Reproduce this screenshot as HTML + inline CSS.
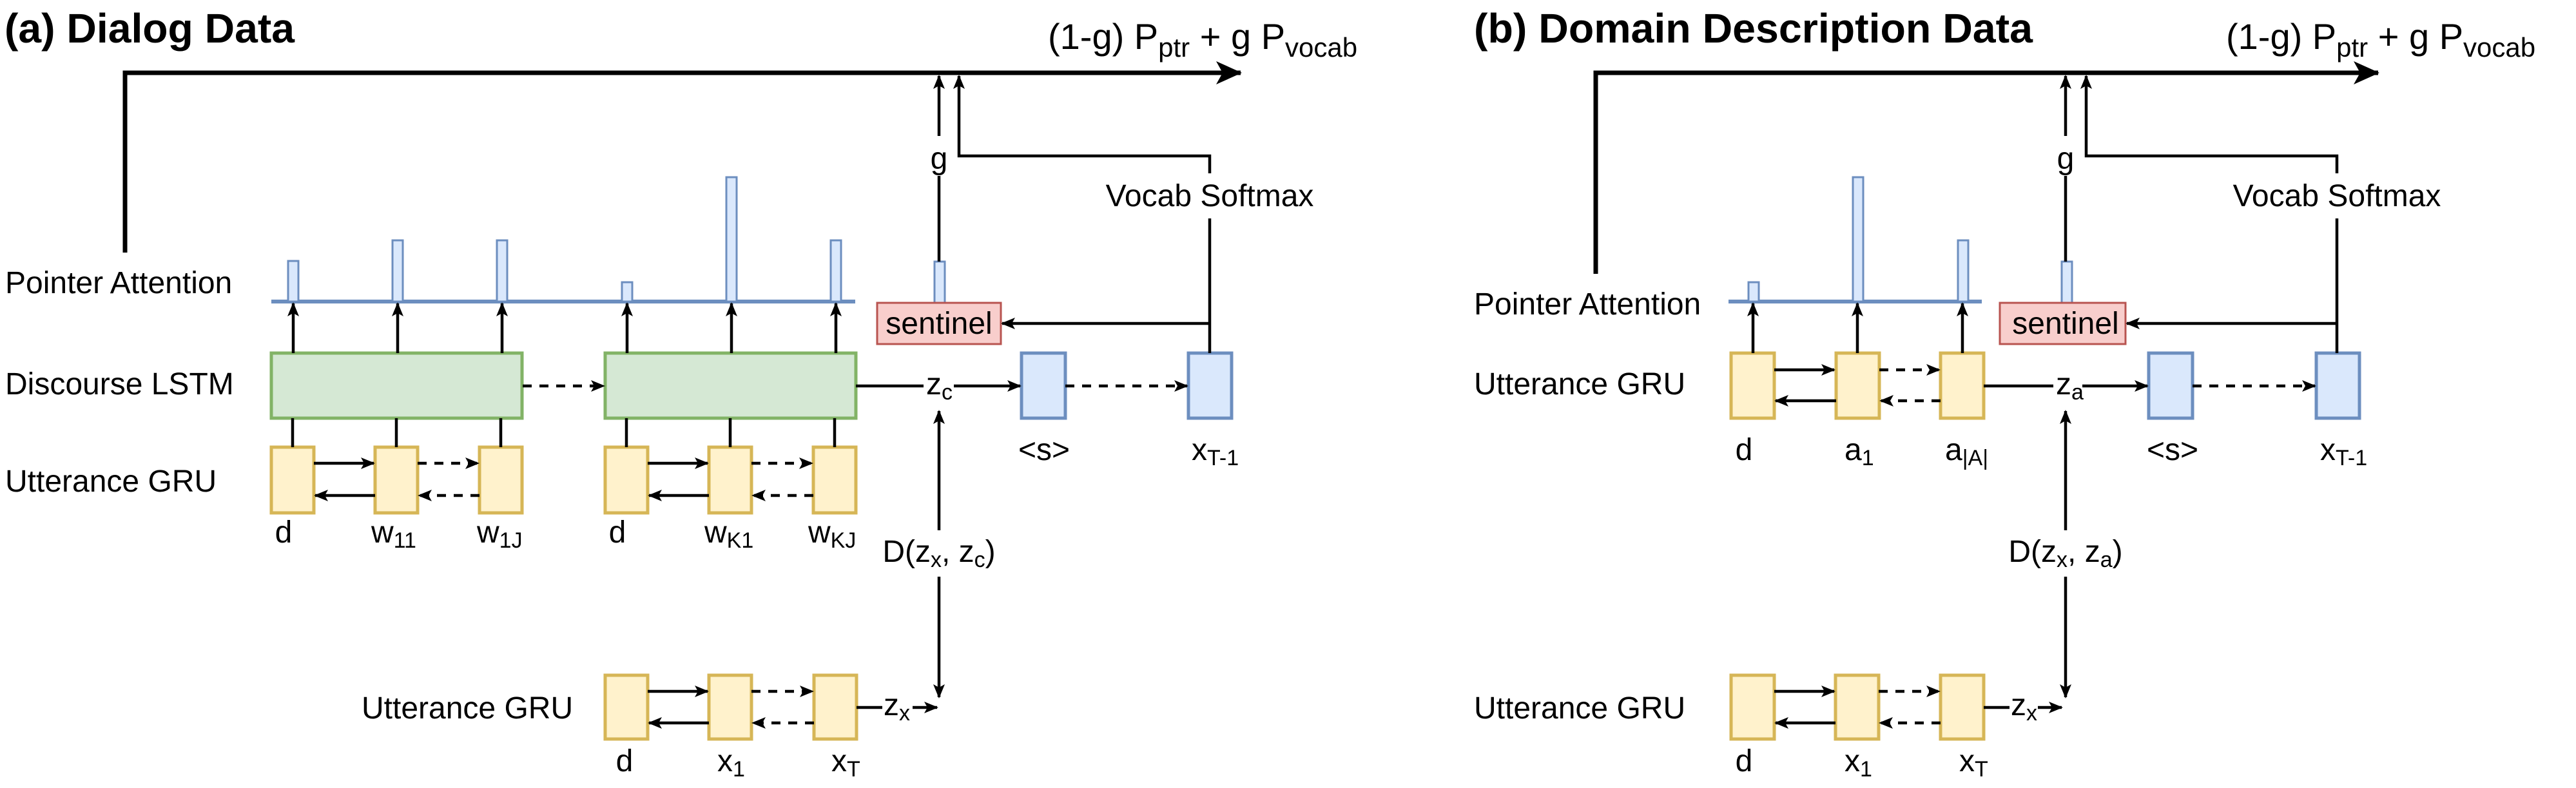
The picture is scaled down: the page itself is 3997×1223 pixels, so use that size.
<!DOCTYPE html>
<html><head><meta charset="utf-8"><style>
html,body{margin:0;padding:0;background:#fff}
svg{display:block}
text{font-family:"Liberation Sans",sans-serif;font-size:48px;fill:#000}
.s{font-size:34px}
.f{font-size:56px}
.fs{font-size:42px}
</style></head><body>
<svg width="3997" height="1223" viewBox="0 0 3997 1223" xmlns="http://www.w3.org/2000/svg">
<defs>
<marker id="a" markerUnits="userSpaceOnUse" markerWidth="22" markerHeight="18" refX="20" refY="9" orient="auto"><path d="M0,0 L22,9 L0,18 L5,9 z" fill="#000"/></marker>
<marker id="A" markerUnits="userSpaceOnUse" markerWidth="40" markerHeight="36" refX="38" refY="18" orient="auto"><path d="M0,0 L40,18 L0,36 L10,18 z" fill="#000"/></marker>
</defs>
<!-- shapes -->
<g stroke-width="4">
<line x1="421" y1="468" x2="1327" y2="468" stroke="#6c8ebf" stroke-width="6"/>
<line x1="2682" y1="468" x2="3075" y2="468" stroke="#6c8ebf" stroke-width="6"/>
<g fill="#dae8fc" stroke="#6c8ebf" stroke-width="3">
<rect x="447" y="405" width="16" height="63"/><rect x="609" y="373" width="16" height="95"/><rect x="771" y="373" width="16" height="95"/>
<rect x="965" y="438" width="16" height="30"/><rect x="1127" y="275" width="16" height="193"/><rect x="1289" y="373" width="16" height="95"/>
<rect x="1450" y="406" width="16" height="64"/>
<rect x="2713" y="438" width="16" height="30"/><rect x="2875" y="275" width="16" height="193"/><rect x="3038" y="373" width="16" height="95"/>
<rect x="3199" y="406" width="16" height="64"/>
</g>
<rect x="1361" y="470" width="192" height="64" fill="#f8cecc" stroke="#b85450" stroke-width="3"/>
<rect x="3103" y="470" width="195" height="64" fill="#f8cecc" stroke="#b85450" stroke-width="3"/>
<g fill="#d5e8d4" stroke="#82b366" stroke-width="5">
<rect x="421" y="548" width="389" height="101"/><rect x="939" y="548" width="389" height="101"/>
</g>
<g fill="#dae8fc" stroke="#6c8ebf" stroke-width="5">
<rect x="1585" y="548" width="68" height="101"/><rect x="1844" y="548" width="67" height="101"/>
<rect x="3334" y="548" width="68" height="101"/><rect x="3594" y="548" width="67" height="101"/>
</g>
<g fill="#fff2cc" stroke="#d6b656" stroke-width="5">
<rect x="421" y="694" width="66" height="102"/><rect x="582" y="694" width="66" height="102"/><rect x="744" y="694" width="66" height="102"/>
<rect x="939" y="694" width="66" height="102"/><rect x="1100" y="694" width="66" height="102"/><rect x="1262" y="694" width="66" height="102"/>
<rect x="939" y="1048" width="66" height="99"/><rect x="1100" y="1048" width="66" height="99"/><rect x="1263" y="1048" width="66" height="99"/>
<rect x="2686" y="548" width="67" height="101"/><rect x="2849" y="548" width="67" height="101"/><rect x="3011" y="548" width="67" height="101"/>
<rect x="2686" y="1048" width="67" height="99"/><rect x="2848" y="1048" width="67" height="99"/><rect x="3011" y="1048" width="67" height="99"/>
</g>
</g>
<g stroke="#000" stroke-width="4.5" fill="none">
<!-- LEFT -->
<path d="M194,392 L194,113 L1925,113" stroke-width="7" marker-end="url(#A)"/>
<path d="M1457,406 L1457,273"/>
<path d="M1457,211 L1457,118" marker-end="url(#a)"/>
<path d="M1877,548 L1877,339"/>
<path d="M1877,269 L1877,242 L1488,242 L1488,118" marker-end="url(#a)"/>
<path d="M1877,502 L1555,502" marker-end="url(#a)"/>
<path d="M455,548 L455,471" marker-end="url(#a)"/><path d="M617,548 L617,471" marker-end="url(#a)"/><path d="M779,548 L779,471" marker-end="url(#a)"/>
<path d="M973,548 L973,471" marker-end="url(#a)"/><path d="M1135,548 L1135,471" marker-end="url(#a)"/><path d="M1297,548 L1297,471" marker-end="url(#a)"/>
<path d="M811,599 L937,599" stroke-dasharray="14,12" marker-end="url(#a)"/>
<path d="M1328,599 L1433,599"/>
<path d="M1480,599 L1583,599" marker-end="url(#a)"/>
<path d="M1653,599 L1842,599" stroke-dasharray="14,12" marker-end="url(#a)"/>
<path d="M454,694 L454,649 M615,694 L615,649 M777,694 L777,649 M972,694 L972,649 M1133,694 L1133,649 M1295,694 L1295,649"/>
<path d="M487,719 L580,719" marker-end="url(#a)"/><path d="M1005,719 L1098,719" marker-end="url(#a)"/>
<path d="M648,719 L742,719" stroke-dasharray="14,12" marker-end="url(#a)"/><path d="M1166,719 L1260,719" stroke-dasharray="14,12" marker-end="url(#a)"/>
<path d="M582,769 L489,769" marker-end="url(#a)"/><path d="M1100,769 L1007,769" marker-end="url(#a)"/>
<path d="M744,769 L650,769" stroke-dasharray="14,12" marker-end="url(#a)"/><path d="M1262,769 L1168,769" stroke-dasharray="14,12" marker-end="url(#a)"/>
<path d="M1457,823 L1457,638" marker-end="url(#a)"/><path d="M1457,895 L1457,1082" marker-end="url(#a)"/>
<path d="M1005,1073 L1098,1073" marker-end="url(#a)"/>
<path d="M1166,1073 L1261,1073" stroke-dasharray="14,12" marker-end="url(#a)"/>
<path d="M1100,1122 L1007,1122" marker-end="url(#a)"/>
<path d="M1263,1122 L1168,1122" stroke-dasharray="14,12" marker-end="url(#a)"/>
<path d="M1329,1098 L1369,1098"/>
<path d="M1416,1098 L1454,1098" marker-end="url(#a)"/>
<!-- RIGHT -->
<path d="M2476,425 L2476,113 L3690,113" stroke-width="7" marker-end="url(#A)"/>
<path d="M3205,406 L3205,273"/>
<path d="M3205,211 L3205,118" marker-end="url(#a)"/>
<path d="M3626,548 L3626,339"/>
<path d="M3626,269 L3626,242 L3237,242 L3237,118" marker-end="url(#a)"/>
<path d="M3626,502 L3300,502" marker-end="url(#a)"/>
<path d="M2720,548 L2720,471" marker-end="url(#a)"/><path d="M2882,548 L2882,471" marker-end="url(#a)"/><path d="M3045,548 L3045,471" marker-end="url(#a)"/>
<path d="M2753,574 L2846,574" marker-end="url(#a)"/>
<path d="M2916,574 L3009,574" stroke-dasharray="14,12" marker-end="url(#a)"/>
<path d="M2849,622 L2755,622" marker-end="url(#a)"/>
<path d="M3011,622 L2918,622" stroke-dasharray="14,12" marker-end="url(#a)"/>
<path d="M3078,599 L3186,599"/>
<path d="M3231,599 L3332,599" marker-end="url(#a)"/>
<path d="M3402,599 L3592,599" stroke-dasharray="14,12" marker-end="url(#a)"/>
<path d="M3205,823 L3205,638" marker-end="url(#a)"/><path d="M3205,895 L3205,1082" marker-end="url(#a)"/>
<path d="M2753,1073 L2846,1073" marker-end="url(#a)"/>
<path d="M2915,1073 L3009,1073" stroke-dasharray="14,12" marker-end="url(#a)"/>
<path d="M2848,1122 L2755,1122" marker-end="url(#a)"/>
<path d="M3011,1122 L2917,1122" stroke-dasharray="14,12" marker-end="url(#a)"/>
<path d="M3078,1098 L3118,1098"/>
<path d="M3162,1098 L3199,1098" marker-end="url(#a)"/>
</g>
<!-- text left -->
<text x="7" y="66" font-weight="bold" style="font-size:64px" textLength="450" lengthAdjust="spacingAndGlyphs">(a) Dialog Data</text>
<text x="1626" y="76" class="f">(1-g) P<tspan class="fs" dy="12">ptr</tspan><tspan dy="-12"> + g P</tspan><tspan class="fs" dy="12">vocab</tspan></text>
<text x="1457" y="262" text-anchor="middle">g</text>
<text x="1877" y="320" text-anchor="middle">Vocab Softmax</text>
<text x="1457" y="518" text-anchor="middle">sentinel</text>
<text x="8" y="455">Pointer Attention</text>
<text x="8" y="612">Discourse LSTM</text>
<text x="8" y="763">Utterance GRU</text>
<text x="1437" y="612">z<tspan class="s" dy="8">c</tspan></text>
<text x="1620" y="714" text-anchor="middle">&lt;s&gt;</text>
<text x="1849" y="714">x<tspan class="s" dy="8">T-1</tspan></text>
<text x="440" y="842" text-anchor="middle">d</text>
<text x="576" y="842">w<tspan class="s" dy="8">11</tspan></text>
<text x="740" y="842">w<tspan class="s" dy="8">1J</tspan></text>
<text x="958" y="842" text-anchor="middle">d</text>
<text x="1093" y="842">w<tspan class="s" dy="8">K1</tspan></text>
<text x="1254" y="842">w<tspan class="s" dy="8">KJ</tspan></text>
<text x="1457" y="872" text-anchor="middle">D(z<tspan class="s" dy="8">x</tspan><tspan dy="-8">, z</tspan><tspan class="s" dy="8">c</tspan><tspan dy="-8">)</tspan></text>
<text x="561" y="1115">Utterance GRU</text>
<text x="1371" y="1110">z<tspan class="s" dy="8">x</tspan></text>
<text x="969" y="1197" text-anchor="middle">d</text>
<text x="1113" y="1197">x<tspan class="s" dy="8">1</tspan></text>
<text x="1290" y="1197">x<tspan class="s" dy="8">T</tspan></text>
<!-- text right -->
<text x="2287" y="66" font-weight="bold" style="font-size:64px" textLength="867" lengthAdjust="spacingAndGlyphs">(b) Domain Description Data</text>
<text x="3454" y="76" class="f">(1-g) P<tspan class="fs" dy="12">ptr</tspan><tspan dy="-12"> + g P</tspan><tspan class="fs" dy="12">vocab</tspan></text>
<text x="3205" y="262" text-anchor="middle">g</text>
<text x="3626" y="320" text-anchor="middle">Vocab Softmax</text>
<text x="3205" y="518" text-anchor="middle">sentinel</text>
<text x="2287" y="488">Pointer Attention</text>
<text x="2287" y="612">Utterance GRU</text>
<text x="3190" y="612">z<tspan class="s" dy="8">a</tspan></text>
<text x="2706" y="714" text-anchor="middle">d</text>
<text x="2862" y="714">a<tspan class="s" dy="8">1</tspan></text>
<text x="3018" y="714">a<tspan class="s" dy="8">|A|</tspan></text>
<text x="3371" y="714" text-anchor="middle">&lt;s&gt;</text>
<text x="3600" y="714">x<tspan class="s" dy="8">T-1</tspan></text>
<text x="3205" y="872" text-anchor="middle">D(z<tspan class="s" dy="8">x</tspan><tspan dy="-8">, z</tspan><tspan class="s" dy="8">a</tspan><tspan dy="-8">)</tspan></text>
<text x="2287" y="1115">Utterance GRU</text>
<text x="3120" y="1110">z<tspan class="s" dy="8">x</tspan></text>
<text x="2706" y="1197" text-anchor="middle">d</text>
<text x="2862" y="1197">x<tspan class="s" dy="8">1</tspan></text>
<text x="3040" y="1197">x<tspan class="s" dy="8">T</tspan></text>
</svg>
</body></html>
